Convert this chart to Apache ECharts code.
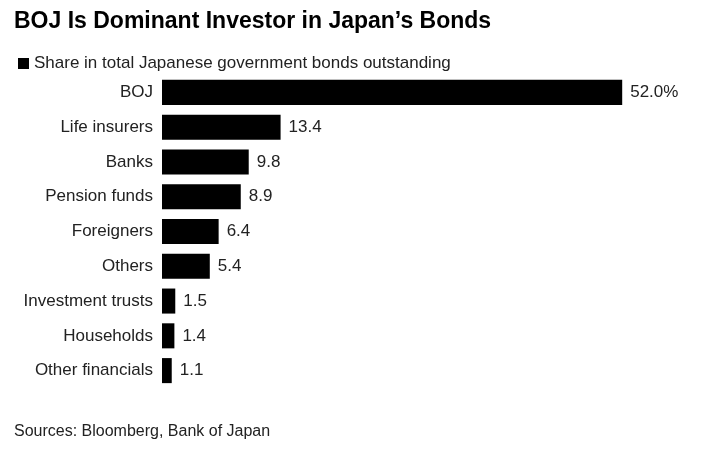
<!DOCTYPE html>
<html>
<head>
<meta charset="utf-8">
<script src="https://cdn.jsdelivr.net/npm/echarts@6/dist/echarts.min.js"></script>
<style>
  body { margin: 0; background: #fff; }
  #chart-panel { width: 711px; height: 450px; }
</style>
</head>
<body>
<div id="chart-panel"></div>
<script>
var categories = ['BOJ', 'Life insurers', 'Banks', 'Pension funds', 'Foreigners',
  'Others', 'Investment trusts', 'Households', 'Other financials'];
var shares = [52.0, 13.4, 9.8, 8.9, 6.4, 5.4, 1.5, 1.4, 1.1];

var chart = document.getElementById('chart-panel');
var myChart = echarts.init(chart);

var font = '"Liberation Sans", Arial, sans-serif';

var option = {
  backgroundColor: '#fff',
  animation: false,
  textStyle: { fontFamily: font },
  title: [
    {
      text: 'BOJ Is Dominant Investor in Japan\u2019s Bonds',
      left: 9, top: 5,
      textStyle: { fontSize: 23, fontWeight: 'bold', color: '#000', fontFamily: font }
    },
    {
      text: 'Sources: Bloomberg, Bank of Japan',
      left: 9, top: 419,
      textStyle: { fontSize: 16, fontWeight: 'normal', color: '#222', fontFamily: font }
    }
  ],
  legend: {
    left: 13, top: 50,
    icon: 'rect', itemWidth: 11, itemHeight: 11, itemGap: 6,
    textStyle: { fontSize: 17, color: '#222', fontFamily: font },
    data: ['Share in total Japanese government bonds outstanding']
  },
  grid: { left: 162, top: 75, right: 18, height: 313 },
  xAxis: { type: 'value', min: 0, max: 60, show: false },
  yAxis: {
    type: 'category',
    data: categories,
    inverse: true,
    axisLine: { show: false },
    axisTick: { show: false },
    axisLabel: { fontSize: 17, color: '#222', margin: 9, fontFamily: font }
  },
  series: [{
    name: 'Share in total Japanese government bonds outstanding',
    type: 'bar',
    data: shares,
    barCategoryGap: '28%',
    itemStyle: { color: '#000' },
    label: {
      show: true, position: 'right', distance: 8,
      fontSize: 17, color: '#222', fontFamily: font,
      formatter: function (p) {
        return p.dataIndex === 0 ? p.value.toFixed(1) + '%' : p.value.toFixed(1);
      }
    }
  }]
};

myChart.setOption(option);
</script>
</body>
</html>
